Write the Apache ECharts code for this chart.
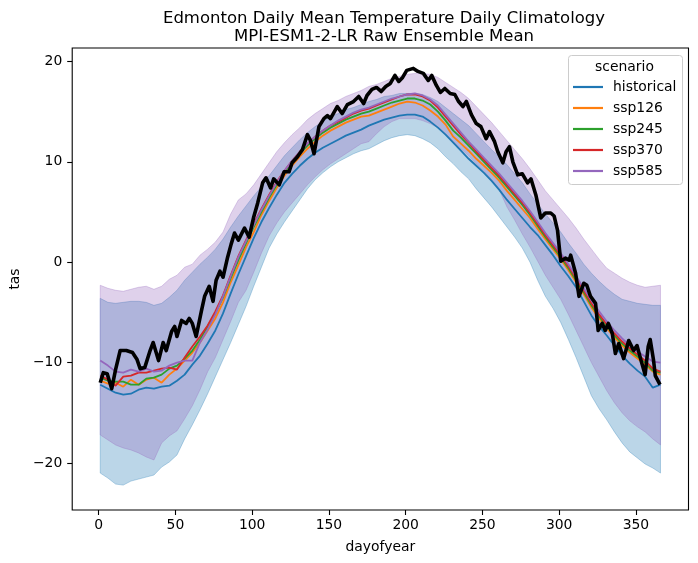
<!DOCTYPE html>
<html><head><meta charset="utf-8">
<script src="https://cdn.jsdelivr.net/npm/echarts@6/dist/echarts.min.js"></script>
<style>html,body{margin:0;padding:0;background:#fff}#c{width:698px;height:563px}</style>
</head><body><div id="c"></div>
<script>
const days = [1,6,11,16,21,26,31,36,41,46,51,56,61,66,71,76,81,86,91,96,101,106,111,116,121,126,131,136,141,146,151,156,161,166,171,176,181,186,191,196,201,206,211,216,221,226,231,236,241,246,251,256,261,266,271,276,281,286,291,296,301,306,311,316,321,326,331,336,341,346,351,356,361,366];
const historical = [-12.2,-12.6,-13.0,-13.2,-13.1,-12.7,-12.5,-12.6,-12.4,-12.3,-11.8,-11.2,-10.2,-9.3,-8.1,-6.8,-5.1,-3.1,-1.2,0.6,2.4,4.0,5.4,6.7,7.9,8.8,9.6,10.3,10.9,11.4,11.8,12.2,12.6,12.9,13.2,13.6,13.9,14.2,14.4,14.6,14.7,14.7,14.5,14.0,13.4,12.7,11.9,11.1,10.3,9.6,8.9,8.1,7.2,6.2,5.3,4.4,3.5,2.7,1.7,0.7,-0.4,-1.4,-2.5,-3.9,-5.3,-6.4,-7.3,-8.3,-9.3,-10.1,-10.8,-11.4,-12.5,-12.2];
const ssp126 = [-11.8,-12.1,-12.0,-12.4,-11.7,-12.2,-11.7,-11.5,-12.0,-11.2,-10.6,-9.8,-9.0,-8.0,-6.8,-5.6,-4.0,-2.0,-0.3,1.5,3.0,4.7,6.1,7.4,8.6,9.6,10.5,11.3,12.0,12.6,13.1,13.5,13.9,14.2,14.5,14.6,14.9,15.2,15.5,15.8,16.0,15.9,15.6,15.1,14.5,13.7,12.5,11.8,11.1,10.3,9.6,8.9,8.1,7.1,6.2,5.3,4.4,3.3,2.3,1.3,0.3,-0.8,-2.0,-3.2,-4.5,-5.6,-6.6,-7.5,-8.3,-9.0,-9.6,-10.2,-10.9,-11.2];
const ssp245 = [-11.5,-11.8,-11.9,-11.9,-12.2,-12.2,-11.6,-11.5,-11.2,-10.6,-10.3,-9.6,-8.8,-7.7,-6.4,-5.1,-3.5,-1.6,0.2,1.9,3.5,5.0,6.4,7.7,8.9,9.9,10.8,11.6,12.3,12.9,13.4,13.8,14.2,14.5,14.8,15.0,15.3,15.6,15.9,16.1,16.3,16.3,16.1,15.7,15.0,14.1,13.1,12.4,11.6,10.8,10.0,9.2,8.4,7.5,6.6,5.7,4.7,3.6,2.5,1.5,0.5,-0.6,-1.8,-3.0,-4.3,-5.4,-6.4,-7.3,-8.1,-8.8,-9.4,-10.0,-10.8,-11.0];
const ssp370 = [-11.3,-11.7,-12.3,-11.4,-11.3,-11.0,-11.0,-10.8,-10.6,-10.5,-10.7,-9.5,-8.4,-7.4,-6.3,-4.9,-3.3,-1.3,0.6,2.2,3.8,5.3,6.7,8.0,9.1,10.1,11.0,11.8,12.5,13.1,13.6,14.0,14.4,14.8,15.1,15.3,15.6,15.9,16.2,16.5,16.7,16.7,16.5,16.1,15.4,14.5,13.6,12.7,11.9,11.0,10.2,9.4,8.6,7.7,6.8,5.9,4.9,3.8,2.7,1.7,0.7,-0.4,-1.6,-2.8,-4.1,-5.2,-6.2,-7.1,-7.9,-8.6,-9.2,-9.8,-10.6,-10.9];
const ssp585 = [-9.8,-10.3,-10.9,-11.0,-10.7,-10.9,-10.6,-10.9,-10.8,-10.3,-10.0,-9.8,-9.8,-8.0,-6.7,-5.2,-3.4,-1.4,0.5,2.1,3.7,5.2,6.6,7.9,9.1,10.1,11.0,11.8,12.5,13.1,13.6,14.1,14.5,14.9,15.2,15.4,15.7,16.0,16.3,16.5,16.7,16.8,16.6,16.2,15.6,14.7,13.8,12.9,12.0,11.2,10.4,9.6,8.8,7.9,7.0,6.1,5.1,4.0,2.9,1.9,0.9,-0.2,-1.4,-2.6,-3.8,-4.9,-5.9,-6.8,-7.6,-8.3,-8.9,-9.4,-9.9,-10.0];
const historicalHigh = [-3.6,-4.0,-4.1,-4.0,-3.9,-3.9,-4.0,-4.3,-4.1,-3.5,-2.8,-1.8,-1.0,-0.2,0.5,1.3,2.3,3.5,4.6,5.6,6.6,7.5,8.6,9.6,10.6,11.4,12.2,12.9,13.5,14.0,14.5,14.8,15.2,15.4,15.7,16.0,16.2,16.5,16.6,16.8,16.8,16.8,16.7,16.4,16.0,15.4,14.8,14.2,13.6,12.8,12.0,11.2,10.5,9.7,8.8,7.9,6.8,5.8,4.8,3.9,3.0,1.9,0.9,-0.2,-1.1,-1.9,-2.6,-3.2,-3.7,-3.9,-4.1,-4.2,-4.3,-4.3];
const historicalLow = [-21.0,-21.5,-22.1,-22.2,-21.8,-21.6,-21.4,-21.2,-20.4,-19.9,-19.2,-17.6,-16.2,-14.7,-13.1,-11.4,-9.7,-8.0,-6.2,-4.4,-2.4,-0.5,1.4,2.8,4.0,5.1,6.2,7.3,8.2,8.9,9.5,10.0,10.4,10.8,11.1,11.3,11.7,12.1,12.4,12.6,12.7,12.6,12.3,11.9,11.3,10.5,9.8,9.0,8.3,7.3,6.4,5.5,4.5,3.5,2.5,1.4,0.0,-1.8,-3.4,-4.6,-6.0,-7.7,-9.5,-11.4,-13.3,-14.6,-15.7,-16.9,-18.0,-18.9,-19.5,-20.1,-20.5,-21.0];
const ssp585High = [-2.3,-2.6,-2.8,-2.9,-2.7,-2.5,-2.4,-2.7,-2.4,-1.7,-1.3,-0.5,-0.2,0.7,1.3,2.0,3.0,4.8,6.2,6.8,7.7,8.8,9.9,11.0,11.9,12.7,13.4,14.2,14.8,15.3,15.8,16.1,16.5,16.8,17.1,17.5,17.7,18.0,18.3,18.5,18.7,18.8,18.8,18.7,18.4,17.9,17.4,16.9,16.3,15.5,14.7,13.9,13.0,12.1,11.2,10.3,9.3,8.2,7.1,6.2,5.3,4.4,3.4,2.3,1.3,0.3,-0.6,-1.1,-1.6,-2.0,-2.3,-2.5,-2.4,-2.3];
const ssp585Low = [-17.2,-17.7,-18.2,-18.5,-18.7,-19.0,-19.4,-19.7,-18.0,-17.3,-16.8,-15.6,-14.3,-12.7,-10.9,-9.5,-7.7,-5.9,-4.0,-2.8,-1.0,0.9,2.6,3.9,5.0,5.9,6.8,7.7,8.5,9.2,9.8,10.3,10.8,11.3,11.8,12.0,12.8,13.5,14.0,14.3,14.3,14.3,14.1,13.8,13.4,12.7,12.0,11.3,10.6,9.8,9.1,8.2,7.2,5.5,4.2,2.8,1.5,0.1,-1.3,-2.5,-3.7,-5.2,-6.8,-8.4,-10.0,-11.4,-12.8,-14.0,-15.0,-15.8,-16.4,-16.9,-17.6,-18.2];
const obsDays = [1,3,5.5,8.5,11,14,18,22,25,27,30,33.5,35.5,39,42,44,47.5,49.5,51,54,57,59,61,63.5,67,69,72,74.5,76.5,79,81,84,86.3,88.5,91,95,98,101,103.6,106.8,109,112,114,117.6,120.8,124,126,129.5,132.7,136,138,140.3,143.5,146.7,149,151,155.4,158.6,162,166,169.4,172.6,174.8,178,181,184,187,190,193,195.5,198,200.7,205,208,211.5,214.7,217,220,222.6,225.5,229,232,234.5,237.3,239.5,242.8,246,249,252.4,254.6,257.9,260,263.3,265.4,267.6,269.8,273,276,279.4,281.6,284.8,288,291,294.5,296.7,298.9,301,304,306.5,307.5,310.7,312.9,316,318,320.4,323.7,325.4,328,330,332,334.6,336.6,338.8,342,345.3,348.5,350.7,353.9,356,358,359.3,361.5,362.6,365.7];
const observed = [-12.0,-11.0,-11.1,-12.6,-10.7,-8.8,-8.8,-9.0,-9.7,-10.6,-10.5,-8.8,-8.0,-9.8,-8.0,-8.8,-6.9,-6.4,-7.4,-5.8,-6.1,-5.6,-6.1,-7.4,-4.8,-3.4,-2.4,-3.9,-1.8,-0.9,-1.5,0.5,1.8,2.9,2.2,3.4,2.5,4.5,5.9,7.9,8.4,7.4,8.3,7.7,9.0,9.0,9.9,10.5,11.2,12.7,12.1,10.8,13.5,14.3,14.6,14.3,15.5,14.8,15.7,16.0,16.5,15.8,16.6,17.2,17.4,17.0,17.5,17.8,18.6,18.0,18.4,19.1,19.3,19.0,18.8,18.1,18.6,17.6,16.9,17.3,16.8,16.7,16.0,15.5,16.0,14.7,13.8,13.5,12.3,13.0,12.0,11.0,9.9,11.0,11.5,10.0,8.7,8.8,7.9,8.3,6.7,4.4,4.9,4.9,4.6,3.2,0.1,0.4,0.2,0.7,-1.1,-3.4,-2.1,-2.3,-3.4,-4.1,-6.8,-6.1,-6.8,-6.1,-7.1,-9.1,-8.1,-9.6,-7.8,-8.8,-8.3,-10.1,-11.2,-8.4,-7.7,-9.8,-11.3,-12.2];
const xTicks = [0,50,100,150,200,250,300,350];
const yTicks = [-20,-10,0,10,20];
const scenarioNames = ['historical','ssp126','ssp245','ssp370','ssp585'];
const scenarioValues = [historical, ssp126, ssp245, ssp370, ssp585];
const colors = ['#1f77b4','#ff7f0e','#2ca02c','#d62728','#9467bd'];

const FONT = 'DejaVu Sans';
function pairs(xs, ys){ return xs.map((x,i)=>[x, ys[i]]); }
function minus(v){ return String(v).replace('-', '\u2212'); }
function band(name, lo, hi, rgb){
  return {
    type:'custom', name: name, silent:true, z:1, clip:true,
    data:[[days[0], lo[0]]],
    renderItem: function(params, api){
      const pts = [];
      for (let i=0;i<days.length;i++) pts.push(api.coord([days[i], hi[i]]));
      for (let i=days.length-1;i>=0;i--) pts.push(api.coord([days[i], lo[i]]));
      return {type:'polygon', shape:{points:pts},
        style:{fill:'rgba('+rgb+',0.3)', stroke:'rgba('+rgb+',0.3)', lineWidth:1}};
    }
  };
}
const series = [
  band('historical band', historicalLow, historicalHigh, '31,119,180'),
  band('ssp585 band', ssp585Low, ssp585High, '148,103,189')
];
scenarioNames.forEach((n,i)=>{
  series.push({type:'line', name:n, data:pairs(days, scenarioValues[i]), showSymbol:false,
    lineStyle:{color:colors[i], width:1.8}, itemStyle:{color:colors[i]}, z:3, silent:true});
});
series.push({type:'line', name:'observed', data:pairs(obsDays, observed), showSymbol:false,
  lineStyle:{color:'#000', width:3.6, join:'round'}, itemStyle:{color:'#000'}, z:5, silent:true});

const chart = echarts.init(document.getElementById('c'), null, {renderer:'canvas'});
chart.setOption({
  animation:false,
  backgroundColor:'#fff',
  title:{text:'Edmonton Daily Mean Temperature Daily Climatology\nMPI-ESM1-2-LR Raw Ensemble Mean',
    left:379, top:5, textAlign:'center',
    textStyle:{fontFamily:FONT, fontSize:16.5, fontWeight:'normal', color:'#000', lineHeight:18}},
  grid:{left:69.5, right:9.5, top:48, bottom:53, show:true, borderColor:'#000', borderWidth:1.1, backgroundColor:'transparent'},
  xAxis:{type:'value', min:-17.25, max:384.25,
    name:'dayofyear', nameLocation:'middle', nameGap:30,
    nameTextStyle:{fontFamily:FONT, fontSize:13.9, color:'#000', verticalAlign:'top'},
    axisLine:{show:false, onZero:false}, splitLine:{show:false},
    axisTick:{show:true, length:5, inside:false, lineStyle:{color:'#000', width:1.1}, customValues:xTicks},
    axisLabel:{fontFamily:FONT, fontSize:13.9, color:'#000', margin:8, customValues:xTicks, formatter:minus}},
  yAxis:{type:'value', min:-24.68, max:21.33,
    name:'tas', nameLocation:'middle', nameGap:48,
    nameTextStyle:{fontFamily:FONT, fontSize:13.9, color:'#000'},
    axisLine:{show:false, onZero:false}, splitLine:{show:false},
    axisTick:{show:true, length:5, inside:false, lineStyle:{color:'#000', width:1.1}, customValues:yTicks},
    axisLabel:{fontFamily:FONT, fontSize:13.9, color:'#000', margin:10, customValues:yTicks, formatter:minus}},
  legend:{data:scenarioNames, orient:'vertical', left:573, top:79, padding:0, itemWidth:30, itemHeight:2.2, itemGap:5,
    icon:'rect', z:10,
    textStyle:{fontFamily:FONT, fontSize:13.9, color:'#000', lineHeight:16, padding:[0,0,0,5]}},
  graphic:[
    {type:'rect', z:8, shape:{x:568.5, y:55.5, width:114, height:129, r:3},
      style:{fill:'rgba(255,255,255,0.8)', stroke:'#cccccc', lineWidth:1}},
    {type:'text', z:9, x:624.5, y:67.5, style:{text:'scenario', fontFamily:FONT, fontSize:13.9, fill:'#000', textAlign:'center', textVerticalAlign:'middle'}}
  ],
  series: series
});
</script></body></html>
